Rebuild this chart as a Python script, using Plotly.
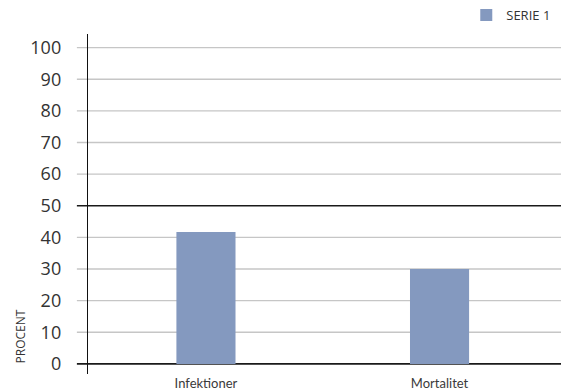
import plotly.graph_objects as go

categories = ["Infektioner", "Mortalitet"]
serie_1 = [41.7, 30.0]
y_ticks = [0, 10, 20, 30, 40, 50, 60, 70, 80, 90, 100]
dark_lines = [0, 50]

BAR_COLOR = "#8499bf"
GRID_COLOR = "#c6c6c6"
TEXT_COLOR = "#333333"

fig = go.Figure()
fig.add_trace(go.Bar(
    x=[0, 1], y=serie_1, name="SERIE 1",
    marker=dict(color=BAR_COLOR, line=dict(width=0)),
    width=0.253,
))

# horizontal rules, extending left of the axis as tick marks
shapes = []
for v in y_ticks:
    dark = v in dark_lines
    shapes.append(dict(
        type="line", xref="paper", yref="y",
        x0=-0.0235, x1=1, y0=v, y1=v,
        line=dict(color="#1a1a1a" if dark else GRID_COLOR, width=1.6 if dark else 1.3),
        layer="below",
    ))

fig.update_layout(
    width=561, height=391,
    margin=dict(l=88, r=0, t=32, b=13),
    paper_bgcolor="white", plot_bgcolor="white",
    shapes=shapes,
    showlegend=True,
    legend=dict(
        x=0.99, xanchor="right", y=1.056, yanchor="middle",
        font=dict(family="Open Sans", size=13, color=TEXT_COLOR),
        bgcolor="rgba(0,0,0,0)",
    ),
    xaxis=dict(
        range=[-0.505, 1.52],
        tickmode="array", tickvals=[0, 1], ticktext=categories,
        showgrid=False, zeroline=False, showline=False, ticks="",
        tickfont=dict(family="Lato", size=13, color="#3a3a3a"),
    ),
    yaxis=dict(
        range=[-3.2, 104.3],
        tickmode="array", tickvals=y_ticks,
        showgrid=False, zeroline=False,
        showline=True, linecolor="#111111", linewidth=1.4,
        ticks="", ticklabelstandoff=22,
        tickfont=dict(family="Open Sans", size=18, color=TEXT_COLOR),
    ),
    annotations=[dict(
        text="PROCENT", textangle=-90,
        xref="paper", yref="paper", x=-0.142, y=0.11,
        xanchor="center", yanchor="middle", showarrow=False,
        font=dict(family="Open Sans", size=12, color=TEXT_COLOR),
    )],
)

fig.write_html("out.html")
